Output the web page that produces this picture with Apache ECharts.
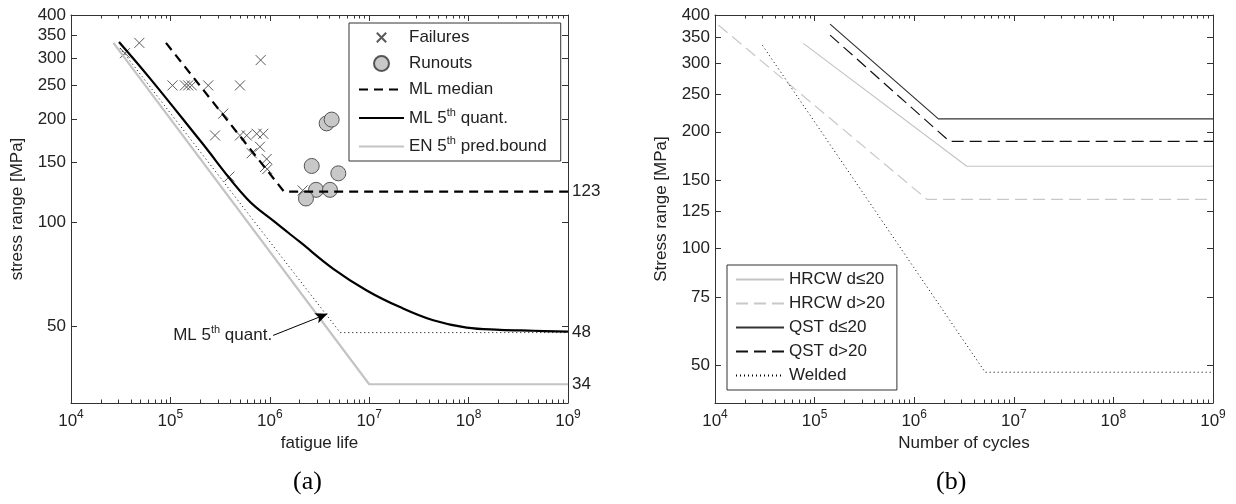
<!DOCTYPE html>
<html><head><meta charset="utf-8">
<script src="https://cdn.jsdelivr.net/npm/echarts@6/dist/echarts.min.js"></script>
<style>html,body{margin:0;padding:0;background:#fff}#c{width:1236px;height:504px}</style>
</head><body><div id="c"></div>
<script>
// ---------- data: panel (a) ----------
const failuresN = [3.49e4, 4.87e4, 1.05e5, 1.40e5, 1.51e5, 1.64e5, 2.40e5, 5.01e5, 8.09e5, 3.40e5, 2.81e5, 5.01e5, 5.86e5, 7.38e5, 8.61e5, 7.96e5, 6.58e5, 9.31e5, 8.95e5, 9.44e5, 3.92e5, 2.14e6];
const failuresS = [310, 332, 250, 250, 250, 250, 250, 250, 296, 207, 179, 179, 179, 181, 181, 166, 159, 153, 145, 143, 136, 124];
const runoutsN = [3.73e6, 4.19e6, 2.64e6, 4.89e6, 2.92e6, 4.03e6, 2.31e6];
const runoutsS = [194, 199, 146, 139, 124.5, 124.5, 117.5];
const mlMedianN = [9.03e4, 1.39e6, 1e9];
const mlMedianS = [332, 123, 123];
const ml5N = [3.04e4, 6.23e4, 1.99e5, 5.86e5, 1.13e6, 2.01e6, 4.35e6, 9.44e6, 2.04e7, 4.41e7, 9.57e7, 2.07e8, 4.48e8, 1e9];
const ml5S = [334, 262, 173, 117.5, 100.3, 87.9, 73.5, 63.6, 56.9, 52.1, 49.6, 48.9, 48.6, 48.3];
const ml5BilinN = [3.11e4, 5.1e6, 1e9];
const ml5BilinS = [321, 48, 48];
const enN = [2.67e4, 1e7, 1e9];
const enS = [332, 34, 34];
const arrowN = [1.08e6, 3.80e6];
const arrowS = [47.1, 54.4];
// ---------- data: panel (b) ----------
const hrcwSmallN = [7.7e4, 3.37e6, 1e9];   const hrcwSmallS = [338, 163, 163];
const hrcwLargeN = [1.08e4, 1.34e6, 1e9];  const hrcwLargeS = [377, 134, 134];
const qstSmallN = [1.43e5, 1.75e6, 1e9];   const qstSmallS = [379, 216, 216];
const qstLargeN = [1.43e5, 2.26e6, 1e9];   const qstLargeS = [355, 189, 189];
const weldedN = [3.0e4, 5.16e6, 1e9];      const weldedS = [334, 48, 48];
// ---------- ticks ----------
const decadeTicks = [1e4, 1e5, 1e6, 1e7, 1e8, 1e9];
const minorMultipliers = [2, 3, 4, 5, 6, 7, 8, 9];
const leftYTicks = [50, 100, 150, 200, 250, 300, 350, 400];
const leftRightLabels = [34, 48, 123];
const rightYTicks = [50, 75, 100, 125, 150, 200, 250, 300, 350, 400];

const minorX = [];
decadeTicks.slice(0, -1).forEach(d => minorMultipliers.forEach(m => minorX.push(m * d)));
const zip = (a, b) => a.map((v, i) => [v, b[i]]);

const FONT = 'Liberation Sans';
const TXT = '#222';
const AX = '#333';
const FS = 17;
const supRich = {
  b: {fontFamily: FONT, fontSize: FS, color: TXT},
  s: {fontFamily: FONT, fontSize: 12, color: TXT, padding: [0, 0, 12, 0]}
};

function xAxes(grid, name) {
  const base = {gridIndex: grid, type: 'log', logBase: 10, min: 1e4, max: 1e9,
    splitLine: {show: false}, minorTick: {show: false}, axisPointer: {show: false}};
  const line = {show: true, onZero: false, lineStyle: {color: AX, width: 1}};
  const major = {show: true, inside: true, length: 6, customValues: decadeTicks, lineStyle: {color: AX}};
  const minor = {show: true, inside: true, length: 3.5, customValues: minorX, lineStyle: {color: AX}};
  return [
    Object.assign({}, base, {position: 'bottom', name: name, nameLocation: 'middle', nameGap: 31,
      nameTextStyle: {fontFamily: FONT, fontSize: FS, color: TXT},
      axisLine: line, axisTick: major,
      axisLabel: {show: true, customValues: decadeTicks, margin: 6,
        formatter: v => '{b|10}{s|' + Math.round(Math.log10(v)) + '}', rich: supRich}}),
    Object.assign({}, base, {position: 'bottom', axisLine: {show: false}, axisTick: minor, axisLabel: {show: false}}),
    Object.assign({}, base, {position: 'top', axisLine: line, axisTick: major, axisLabel: {show: false}}),
    Object.assign({}, base, {position: 'top', axisLine: {show: false}, axisTick: minor, axisLabel: {show: false}})
  ];
}
function yAxes(grid, name, min, ticks, rightLabels) {
  const base = {gridIndex: grid, type: 'log', logBase: 10, min: min, max: 400,
    splitLine: {show: false}, minorTick: {show: false}, axisPointer: {show: false}};
  const line = {show: true, onZero: false, lineStyle: {color: AX, width: 1}};
  const major = {show: true, inside: true, length: 6, customValues: ticks, lineStyle: {color: AX}};
  const arr = [
    Object.assign({}, base, {position: 'left', name: name, nameLocation: 'middle', nameGap: 45, nameRotate: 90,
      nameTextStyle: {fontFamily: FONT, fontSize: FS, color: TXT},
      axisLine: line, axisTick: major,
      axisLabel: {show: true, customValues: ticks, margin: 5, fontFamily: FONT, fontSize: FS, color: TXT,
        formatter: v => String(Math.round(v))}}),
    Object.assign({}, base, {position: 'right', axisLine: line, axisTick: major, axisLabel: {show: false}})
  ];
  if (rightLabels) {
    arr.push(Object.assign({}, base, {position: 'right', axisLine: {show: false}, axisTick: {show: false},
      axisLabel: {show: true, customValues: rightLabels, margin: 4, fontFamily: FONT, fontSize: FS, color: TXT,
        formatter: v => String(Math.round(v))}}));
  }
  return arr;
}

// cross glyph with a transparent margin so that the drawn × is smaller than the symbol box
const crossPath = 'path://M-3,-3L-3,-3M13,13L13,13M0,0L10,10M10,0L0,10';
const quantLabel = '{a|ML 5}{s|th}{a| quant.}';
const legRich = {
  a: {fontFamily: FONT, fontSize: 17, color: TXT},
  s: {fontFamily: FONT, fontSize: 11, color: TXT, padding: [0, 0, 11, 0]}
};
const legendFormatter = name => {
  if (name === 'ML 5th quant.') return quantLabel;
  if (name === 'EN 5th pred.bound') return '{a|EN 5}{s|th}{a| pred.bound}';
  return '{a|' + name + '}';
};
const lineItem = name => ({name: name, itemStyle: {opacity: 0}});

const L = {xAxisIndex: 0, yAxisIndex: 0, silent: true, animation: false};
const R = {xAxisIndex: 4, yAxisIndex: 3, silent: true, animation: false};
const lineS = (ax, name, N, S, style, extra) => Object.assign({type: 'line', name: name, data: zip(N, S),
  symbol: 'none', showSymbol: false, lineStyle: style, itemStyle: {color: style.color}}, ax, extra || {});

const chart = echarts.init(document.getElementById('c'), null, {renderer: 'canvas'});
chart.setOption({
  backgroundColor: '#fff',
  animation: false,
  title: [
    {text: '(a)', left: 293, top: 469, padding: 0, textStyle: {fontFamily: 'Liberation Serif', fontSize: 26, fontWeight: 'normal', color: '#000'}},
    {text: '(b)', left: 936, top: 469, padding: 0, textStyle: {fontFamily: 'Liberation Serif', fontSize: 26, fontWeight: 'normal', color: '#000'}}
  ],
  grid: [
    {left: 71, top: 15, width: 497, height: 388, containLabel: false},
    {left: 715, top: 15, width: 498, height: 388, containLabel: false}
  ],
  legend: [
    {orient: 'vertical', left: 349, top: 23, padding: [6, 14, 6, 9], itemGap: 9, itemWidth: 45, itemHeight: 15,
      backgroundColor: '#fff', borderColor: AX, borderWidth: 1, selectedMode: false,
      data: ['Failures', 'Runouts', lineItem('ML median'), lineItem('ML 5th quant.'), lineItem('EN 5th pred.bound')],
      formatter: legendFormatter, textStyle: {fontFamily: FONT, fontSize: 17, color: TXT, rich: legRich}},
    {orient: 'vertical', left: 727, top: 265, padding: [6, 12, 6, 8], itemGap: 7, itemWidth: 48, itemHeight: 14,
      backgroundColor: '#fff', borderColor: AX, borderWidth: 1, selectedMode: false,
      data: [lineItem('HRCW d≤20'), lineItem('HRCW d>20'), lineItem('QST d≤20'), lineItem('QST d>20'), lineItem('Welded')],
      formatter: legendFormatter, textStyle: {fontFamily: FONT, fontSize: 17, color: TXT, rich: legRich}}
  ],
  xAxis: xAxes(0, 'fatigue life').concat(xAxes(1, 'Number of cycles')),
  yAxis: yAxes(0, 'stress range [MPa]', 30, leftYTicks, leftRightLabels).concat(yAxes(1, 'Stress range [MPa]', 40, rightYTicks, null)),
  series: [
    Object.assign({type: 'scatter', name: 'Failures', data: zip(failuresN, failuresS), symbol: crossPath, symbolSize: 16,
      itemStyle: {color: 'rgba(0,0,0,0)', borderColor: '#5a5a5a', borderWidth: 1, opacity: 1}}, L),
    Object.assign({type: 'scatter', name: 'Runouts', data: zip(runoutsN, runoutsS), symbol: 'circle', symbolSize: 15,
      itemStyle: {color: '#c8c8c8', borderColor: '#555', borderWidth: 1, opacity: 1}}, L),
    lineS(L, 'ML median', mlMedianN, mlMedianS, {color: '#000', width: 2.2, type: [9, 6]}),
    lineS(L, 'ML 5th quant.', ml5N, ml5S, {color: '#000', width: 2.2}, {smooth: 0.4}),
    lineS(L, 'EN 5th pred.bound', enN, enS, {color: '#c4c4c4', width: 2.2}),
    lineS(L, 'ML 5th bilinear', ml5BilinN, ml5BilinS, {color: '#000', width: 1, type: [1, 3]}, {
      markLine: {silent: true, symbol: ['none', 'arrow'], symbolSize: [8, 12], label: {show: false},
        lineStyle: {color: '#000', width: 1, type: 'solid'},
        data: [[{coord: [arrowN[0], arrowS[0]]}, {coord: [arrowN[1], arrowS[1]]}]]}
    }),
    Object.assign({type: 'scatter', name: 'annotation', data: [[arrowN[0], arrowS[0]]], symbolSize: 0,
      itemStyle: {opacity: 1, color: TXT},
      label: {show: true, position: 'left', distance: 1, color: TXT, opacity: 1, formatter: quantLabel, rich: legRich}}, L),
    lineS(R, 'HRCW d≤20', hrcwSmallN, hrcwSmallS, {color: '#c4c4c4', width: 1.2}),
    lineS(R, 'HRCW d>20', hrcwLargeN, hrcwLargeS, {color: '#c8c8c8', width: 1.2, type: [12, 6]}),
    lineS(R, 'QST d≤20', qstSmallN, qstSmallS, {color: '#333', width: 1.2}),
    lineS(R, 'QST d>20', qstLargeN, qstLargeS, {color: '#111', width: 1.2, type: [12, 6]}),
    lineS(R, 'Welded', weldedN, weldedS, {color: '#000', width: 1, type: [1, 3]})
  ]
});
</script></body></html>
